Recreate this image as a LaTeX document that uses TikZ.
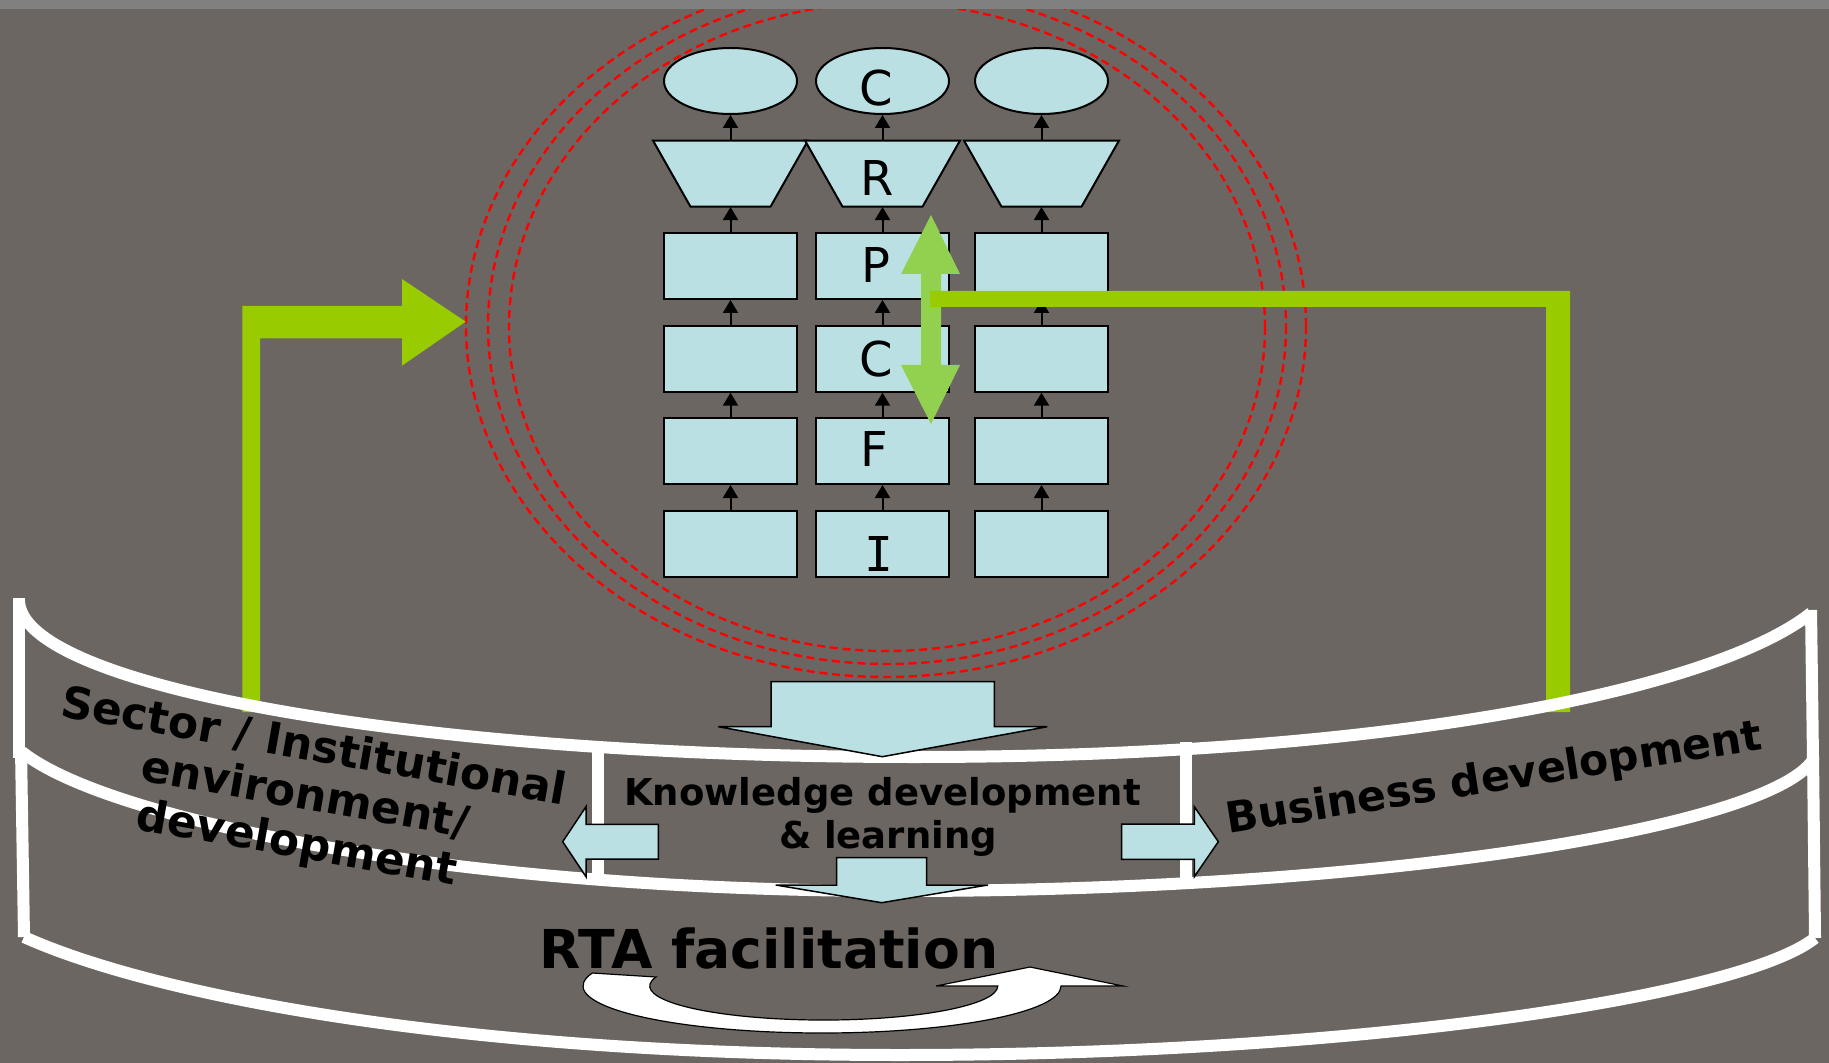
\documentclass[tikz,border=0pt]{standalone}
\usepackage{fontspec}
\setmainfont{DejaVu Sans}
\newfontfamily\monoI{DejaVu Sans Mono}
\usetikzlibrary{shapes.geometric,arrows.meta}
\definecolor{bgc}{RGB}{107,102,97}
\definecolor{topc}{RGB}{128,128,128}
\definecolor{boxc}{RGB}{187,224,227}
\definecolor{grA}{RGB}{153,204,0}
\definecolor{grB}{RGB}{146,208,80}
\begin{document}
\begin{tikzpicture}[x=0.5pt,y=-0.5pt,
  boxnode/.style={rectangle,draw=black,line width=1pt,fill=boxc,minimum width=66.5pt,minimum height=33pt,inner sep=0pt},
  ellnode/.style={boxnode,ellipse},
  trapanchor/.style={rectangle,inner sep=0pt,minimum width=40pt,minimum height=33pt},
  trapfill/.style={draw=black,line width=1pt,fill=boxc,line join=miter},
  uparrow/.style={-{Triangle[width=7.5pt,length=6.5pt]},line width=1pt,black},
  letter/.style={font=\fontsize{24}{28}\selectfont,inner sep=0pt},
  whiteline/.style={white,line width=6pt},
  blockarrow/.style={fill=boxc,draw=black,line width=0.75pt,line join=miter},
  reddash/.style={red,line width=1.2pt,dash pattern=on 4pt off 2.4pt},
  boldtext/.style={inner sep=0pt,text=black}]
\fill[bgc] (0,0) rectangle (1829,1063);
\useasboundingbox (0,0) rectangle (1829,1063);
% red dashed rings
\draw[reddash] (886,326) ellipse [x radius=420, y radius=351];
\draw[reddash] (887,326) ellipse [x radius=399, y radius=338];
\draw[reddash] (887,327) ellipse [x radius=378, y radius=324];
\fill[topc] (0,0) rectangle (1829,9);
% columns
\foreach \n/\x in {1/730.5,2/882.5,3/1041.5}{
  \node[ellnode] (e\n) at (\x,81) {};
  \draw[trapfill] (\x-77.5,140.6) -- (\x+77.5,140.6) -- (\x+40,206.7) -- (\x-40,206.7) -- cycle;
  \node[trapanchor] (t\n) at (\x,173.65) {};
  \node[boxnode] (p\n) at (\x,266) {};
  \node[boxnode] (c\n) at (\x,358.7) {};
  \node[boxnode] (f\n) at (\x,451) {};
  \node[boxnode] (i\n) at (\x,543.5) {};
  \draw[uparrow] (t\n.north) -- (e\n.south);
  \draw[uparrow] (p\n.north) -- (t\n.south);
  \draw[uparrow] (c\n.north) -- (p\n.south);
  \draw[uparrow] (f\n.north) -- (c\n.south);
  \draw[uparrow] (i\n.north) -- (f\n.south);
}
\node[letter] (lC1) at (876,88) {C};
\node[letter] (lR) at (877.5,178) {R};
\node[letter] (lP) at (875.5,265) {P};
\node[letter] (lC2) at (876.7,359) {C};
\node[letter] (lF) at (874,449) {F};
\node[letter,font=\monoI\fontsize{24}{28}\selectfont] (lI) at (879,554) {I};
% light green double arrow
\fill[grB] (931,215) -- (960,274) -- (941,274) -- (941,365) -- (960,365) -- (931,424)
  -- (901,365) -- (921,365) -- (921,274) -- (901,274) -- cycle;
% right green connector
\fill[grA] (930,291) -- (1570,291) -- (1570,712) -- (1546,712) -- (1546,307) -- (930,307) -- cycle;
% left green arrow
\fill[grA] (242.3,712) -- (242.3,306) -- (402,306) -- (402,279) -- (465.7,321.7) -- (402,365.7)
  -- (402,338.3) -- (260,338.3) -- (260,712) -- cycle;
% white bands
\draw[whiteline] (19,598) -- (19,758);
\draw[whiteline] (21,748) -- (24,937);
\draw[whiteline] (1811,610) -- (1813,760);
\draw[whiteline] (1813,756) -- (1815,938);
\draw[whiteline] (19,600) .. controls (19,687) and (420,757) .. (915,757)
  .. controls (1410,757) and (1721,685) .. (1811,613);
\draw[whiteline] (22,752) .. controls (110,821.5) and (461,891) .. (900,891)
  .. controls (1375,891) and (1767,828) .. (1813,760);
\draw[whiteline] (24,937) .. controls (155,996) and (462,1055) .. (900,1055)
  .. controls (1357,1055) and (1742,996.5) .. (1815,938);
\draw[whiteline] (598,744) -- (598,882);
\draw[whiteline] (1186,742) -- (1186,886);
% block arrows
\draw[blockarrow] (771,681.7) -- (994.3,681.7) -- (994.3,726.7) -- (1047.3,726.7) -- (882.3,756.7)
  -- (718.3,726.7) -- (771,726.7) -- cycle;
\draw[blockarrow] (836.7,857.7) -- (926.7,857.7) -- (926.7,885) -- (987.7,885) -- (881.7,902.7)
  -- (775.7,885) -- (836.7,885) -- cycle;
\draw[blockarrow] (658.3,824.3) -- (658.3,859) -- (586,859) -- (586,876.7) -- (562.7,841.7)
  -- (586,806.7) -- (586,824.3) -- cycle;
\draw[blockarrow] (1121.7,824) -- (1194.3,824) -- (1194.3,806.7) -- (1218.3,841.7) -- (1194.3,876.7)
  -- (1194.3,859.3) -- (1121.7,859.3) -- cycle;
% texts
\node[boldtext,font=\bfseries\fontsize{18.5}{22}\selectfont,anchor=base] (kd1) at (882.5,805) {Knowledge development};
\node[boldtext,font=\bfseries\fontsize{18.5}{22}\selectfont,anchor=base] (kd2) at (888,848.3) {\& learning};
\node[boldtext,font=\bfseries\fontsize{26.8}{30}\selectfont,anchor=base] (rta) at (769,968.3) {RTA facilitation};
\node[boldtext,font=\bfseries\fontsize{22}{24.5}\selectfont,align=center,rotate=-10] (sector) at (305,797)
  {Sector / Institutional\\environment/\\development};
\node[boldtext,font=\bfseries\fontsize{21.3}{24}\selectfont,rotate=9] (bus) at (1494,780) {Business development};
% curved white arrow
\draw[fill=white,draw=black,line width=0.6pt] (592,973) -- (656,977)
  arc[start angle=195.4, end angle=0, x radius=174, y radius=34]
  -- (936,986) -- (1030,967) -- (1123,986) -- (1061,986)
  arc[start angle=0, end angle=196, x radius=239, y radius=47] -- cycle;
\end{tikzpicture}
\end{document}
